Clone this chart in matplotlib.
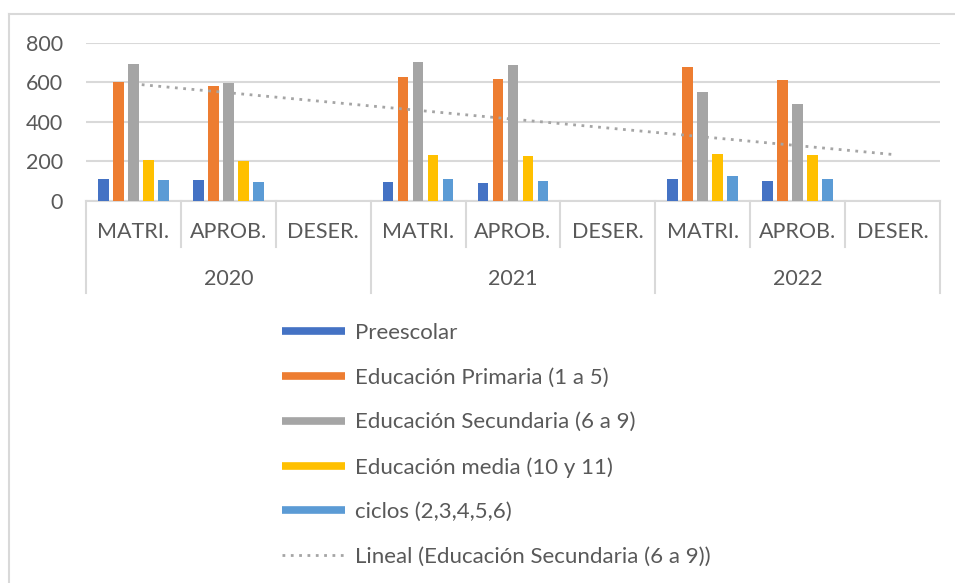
import matplotlib
matplotlib.use("Agg")
import matplotlib.pyplot as plt
from matplotlib.lines import Line2D
import numpy as np

plt.rcParams['font.family'] = ['Lato', 'DejaVu Sans']

years = ["2020", "2021", "2022"]
subcats = ["MATRI.", "APROB.", "DESER."]
series_names = ["Preescolar", "Educación Primaria (1 a 5)", "Educación Secundaria (6 a 9)",
                "Educación media (10 y 11)", "ciclos (2,3,4,5,6)"]
preescolar = [110, 105, 0, 95, 92, 0, 110, 102, 0]
primaria = [602, 580, 0, 627, 615, 0, 675, 613, 0]
secundaria = [692, 595, 0, 700, 686, 0, 552, 490, 0]
media = [208, 203, 0, 233, 228, 0, 234, 229, 0]
ciclos = [104, 96, 0, 112, 101, 0, 124, 111, 0]
yticks = [0, 200, 400, 600, 800]

colors = ["#4472C4", "#ED7D31", "#A5A5A5", "#FFC000", "#5B9BD5"]
txt = "#595959"
grid = "#D9D9D9"

W, H = 955, 583
fig = plt.figure(figsize=(W / 100, H / 100), dpi=100)

# chart frame (top and left border)
fig.add_artist(Line2D([9 / W, 9 / W], [0, 1 - 14 / H], color=grid, lw=1.5))
fig.add_artist(Line2D([9 / W, 1], [1 - 14 / H, 1 - 14 / H], color=grid, lw=1.5))

x0, x1 = 86, 940
ytop, ybot = 42.7, 200.7
ax = fig.add_axes([x0 / W, 1 - ybot / H, (x1 - x0) / W, (ybot - ytop) / H])

all_series = [preescolar, primaria, secundaria, media, ciclos]
n = len(subcats) * len(years)
x = np.arange(n)
pitch = 0.158
bw = 0.113
for i, (vals, c) in enumerate(zip(all_series, colors)):
    ax.bar(x + (i - 2) * pitch, vals, width=bw, color=c, zorder=3)

# linear trend of secundaria
coef = np.polyfit(x + 1, secundaria, 1)
trend = np.polyval(coef, x + 1)
ax.plot(x, trend, color="#A5A5A5", lw=2, linestyle=(0, (1, 2)), zorder=4)

ax.set_xlim(-0.5, n - 0.5)
ax.set_ylim(0, 800)
ax.set_yticks(yticks)
ax.set_yticklabels([str(v) for v in yticks])
ax.tick_params(axis='y', length=0, labelsize=15.5, labelcolor=txt, pad=16.5)
ax.set_xticks([])
for s in ["top", "right", "left"]:
    ax.spines[s].set_visible(False)
ax.spines["bottom"].set_color(grid)
ax.spines["bottom"].set_linewidth(1.5)
ax.grid(axis='y', color=grid, lw=1.5, zorder=0)
ax.set_axisbelow(True)

tr = ax.get_xaxis_transform()
hpx = ybot - ytop
inner_bot = -(247 - ybot) / hpx
outer_bot = -(293 - ybot) / hpx
lab1 = -(232.5 - ybot) / hpx
lab2 = -(279 - ybot) / hpx
for k in range(n + 1):
    xb = k - 0.5
    bot = outer_bot if k % 3 == 0 else inner_bot
    ax.plot([xb, xb], [0, bot], transform=tr, color=grid, lw=1.5, clip_on=False)
for k in range(n):
    ax.text(k, lab1, subcats[k % 3], transform=tr, ha='center', va='center',
            fontsize=15.5, color=txt)
for j, yr in enumerate(years):
    ax.text(3 * j + 1, lab2, yr, transform=tr, ha='center', va='center',
            fontsize=15.5, color=txt)

handles = [Line2D([0], [0], color=c, lw=5.5, solid_capstyle='butt') for c in colors]
handles.append(Line2D([0], [0], color="#A5A5A5", lw=2, linestyle=(0, (1, 2))))
labels = series_names + ["Lineal (Educación Secundaria (6 a 9))"]
leg = fig.legend(handles, labels, loc='upper left', bbox_to_anchor=(282 / W, 1 - 323 / H),
                 frameon=False, fontsize=16, handlelength=2.84, handletextpad=0.45,
                 labelspacing=1.11, labelcolor=txt, borderaxespad=0, borderpad=0)

fig.savefig("out.png", dpi=100, facecolor="white")
